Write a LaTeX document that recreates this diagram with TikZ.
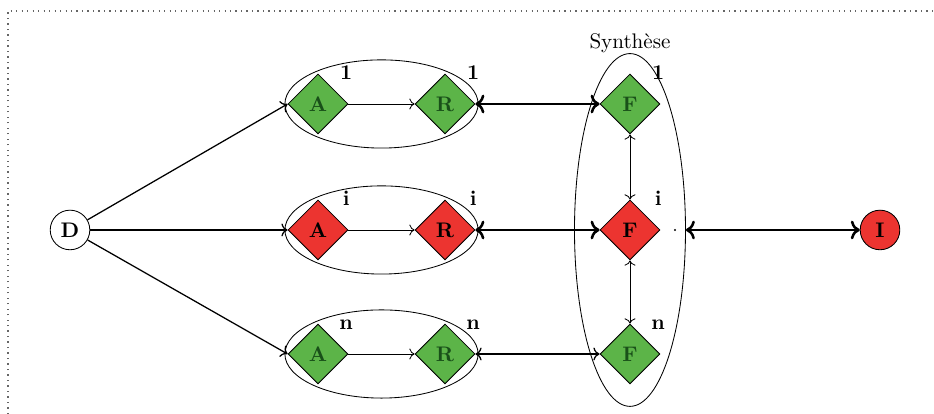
\documentclass[tikz,border=0pt]{standalone}
\usepackage{amsmath}
\usetikzlibrary{arrows, arrows.meta}
\usetikzlibrary{calc}
\usetikzlibrary{positioning}
\usetikzlibrary{shapes.geometric}
\definecolor{vert}{RGB}{92,180,72}
\definecolor{rouge}{RGB}{236,52,48}
\definecolor{vertfonce}{RGB}{25,80,25}

\begin{document}
\begin{tikzpicture}[
    etat/.style={circle, draw, inner sep=0pt, minimum size=6.6mm, font=\bfseries},
    losange/.style={diamond, draw, inner sep=0pt, minimum size=10mm, font=\bfseries},
    ok/.style={losange, fill=vert, text=vertfonce},
    ko/.style={losange, fill=rouge},
    indice/.style={font=\bfseries, inner sep=0pt, anchor=base},
    groupe/.style={ellipse, draw, inner sep=0pt},
  ]
    \useasboundingbox (0,0) rectangle (15.567,6.9);
    \draw[dotted, line width=0.6pt, black!60] (0.133,0) -- (0.133,6.717) -- (15.567,6.717);

    \node[etat] (D) at (1.167,3.067) {D};

    \node[ok] (A1) at (5.3,5.167) {A};
    \node[ko] (Ai) at (5.3,3.067) {A};
    \node[ok] (An) at (5.3,1.0) {A};

    \node[ok] (R1) at (7.417,5.167) {R};
    \node[ko] (Ri) at (7.417,3.067) {R};
    \node[ok] (Rn) at (7.417,1.0) {R};

    \node[ok] (F1) at (10.5,5.167) {F};
    \node[ko] (Fi) at (10.5,3.067) {F};
    \node[ok] (Fn) at (10.5,1.0) {F};

    \node[etat, fill=rouge] (I) at (14.667,3.067) {I};

    % groupes A-R
    \node[groupe, minimum width=3.22cm, minimum height=1.47cm] (E1) at ($(A1)!0.5!(R1)$) {};
    \node[groupe, minimum width=3.22cm, minimum height=1.47cm] (Ei) at ($(Ai)!0.5!(Ri)$) {};
    \node[groupe, minimum width=3.22cm, minimum height=1.47cm] (En) at ($(An)!0.5!(Rn)$) {};

    % synthese
    \node[groupe, minimum width=1.85cm, minimum height=5.88cm] (S) at (Fi) {};
    \node[above=-0.12cm of S] (syn) {Synth\`ese};
    \coordinate (pt) at (11.25,3.067);
    \fill (pt) circle (0.5pt);

    % indices
    \node[indice] (a1) at ($(A1)+(0.47,0.4)$) {1};
    \node[indice] (ai) at ($(Ai)+(0.47,0.4)$) {i};
    \node[indice] (an) at ($(An)+(0.47,0.4)$) {n};
    \node[indice] (r1) at ($(R1)+(0.47,0.4)$) {1};
    \node[indice] (ri) at ($(Ri)+(0.47,0.4)$) {i};
    \node[indice] (rn) at ($(Rn)+(0.47,0.4)$) {n};
    \node[indice] (f1) at ($(F1)+(0.47,0.4)$) {1};
    \node[indice] (fi) at ($(Fi)+(0.47,0.4)$) {i};
    \node[indice] (fn) at ($(Fn)+(0.47,0.4)$) {n};

    \draw[semithick, ->] (D) -- (A1.west);
    \draw[semithick, ->] (D) -- (Ai.west);
    \draw[semithick, ->] (D) -- (An.west);

    \draw[->] (A1) -- (R1);
    \draw[->] (Ai) -- (Ri);
    \draw[->] (An) -- (Rn);

    \draw[line width=1.2pt, <->] (R1) -- (F1);
    \draw[line width=1.2pt, <->] (Ri) -- (Fi);
    \draw[semithick, <->] (Rn) -- (Fn);

    \draw[<->] (F1) -- (Fi);
    \draw[<->] (Fi) -- (Fn);

    \draw[line width=1.2pt, <->] (S.east) -- (I);
  \end{tikzpicture}
\end{document}
